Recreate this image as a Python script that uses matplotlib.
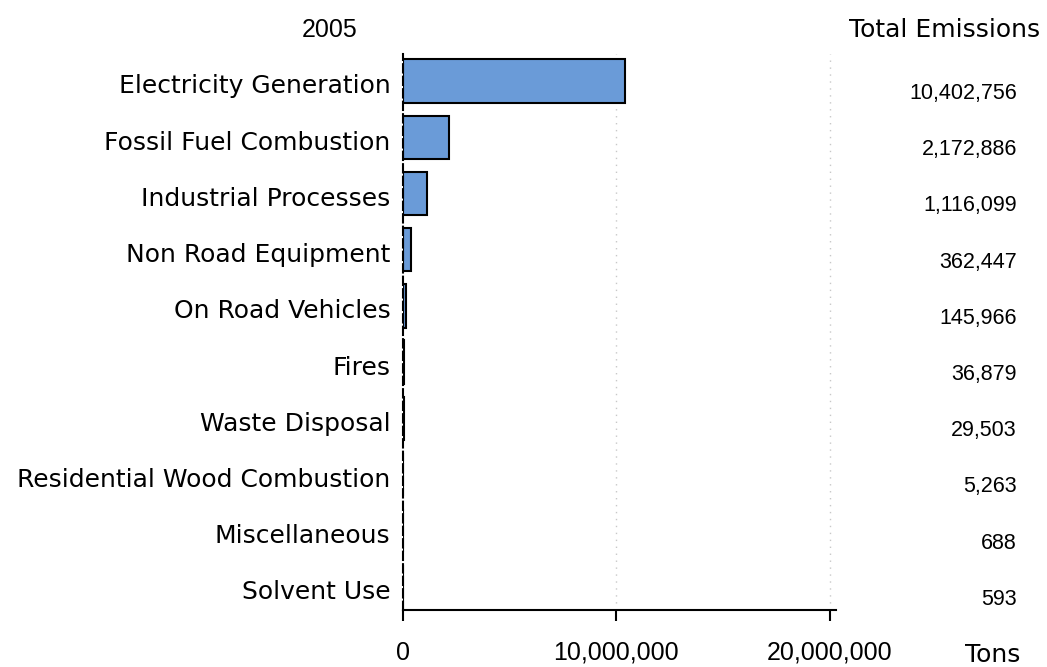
import matplotlib
matplotlib.use("Agg")
import matplotlib.pyplot as plt
import matplotlib.transforms as mtransforms
import numpy as np

# data
year = "2005"
sectors = ["Electricity Generation", "Fossil Fuel Combustion", "Industrial Processes",
           "Non Road Equipment", "On Road Vehicles", "Fires", "Waste Disposal",
           "Residential Wood Combustion", "Miscellaneous", "Solvent Use"]
emissions = [10402756, 2172886, 1116099, 362447, 145966, 36879, 29503, 5263, 688, 593]
xticks = [0, 10000000, 20000000]
xtick_labels = ["0", "10,000,000", "20,000,000"]

lab_font = {"family": "DejaVu Sans", "size": 18}
num_font = {"family": "Liberation Sans", "size": 15.5}
tick_font = {"family": "Liberation Sans", "size": 18}

fig = plt.figure(figsize=(10.47, 6.67), dpi=100)
ax = fig.add_axes([403/1047, 1-610/667, 433/1047, 556/667])

y = np.arange(len(sectors))
ax.barh(y, emissions, height=0.77, color="#6a9bd8", edgecolor="black", linewidth=1.5)
ax.set_xlim(0, 20300000)
ax.set_ylim(9.41, -0.48)

ax.set_yticks(y)
ax.set_yticklabels(sectors, fontdict=lab_font)
ax.tick_params(axis="y", length=0, pad=9)
# nudge the category labels down a little, as in the original
shift = mtransforms.ScaledTranslation(0, -3/100, fig.dpi_scale_trans)
for t in ax.get_yticklabels():
    t.set_transform(t.get_transform() + shift)
ax.set_xticks(xticks)
ax.set_xticklabels(xtick_labels, fontdict=tick_font)
ax.tick_params(axis="x", length=8, width=1.5, pad=14)

for s in ["top", "right"]:
    ax.spines[s].set_visible(False)
ax.spines["bottom"].set_linewidth(1.5)
ax.spines["left"].set_linestyle((0, (4, 2)))
ax.spines["left"].set_linewidth(1.5)

for xv in xticks[1:]:
    ax.axvline(xv, color="#c8c8c8", linestyle=(0, (1, 4)), linewidth=1, zorder=0)

# totals column
tr = mtransforms.blended_transform_factory(fig.transFigure, ax.transData)
for yi, v in zip(y, emissions):
    ax.text(1017/1047, yi + 0.22, f"{v:,}", transform=tr, ha="right", va="center", fontdict=num_font)

fig.text(330/1047, 1-30/667, year, ha="center", va="center", fontdict=tick_font)
fig.text(1040/1047, 1-30/667, "Total Emissions", ha="right", va="center", fontdict=lab_font)
fig.text(993/1047, 1-655/667, "Tons", ha="center", va="center", fontdict=lab_font)

fig.savefig("out.png", dpi=100)
